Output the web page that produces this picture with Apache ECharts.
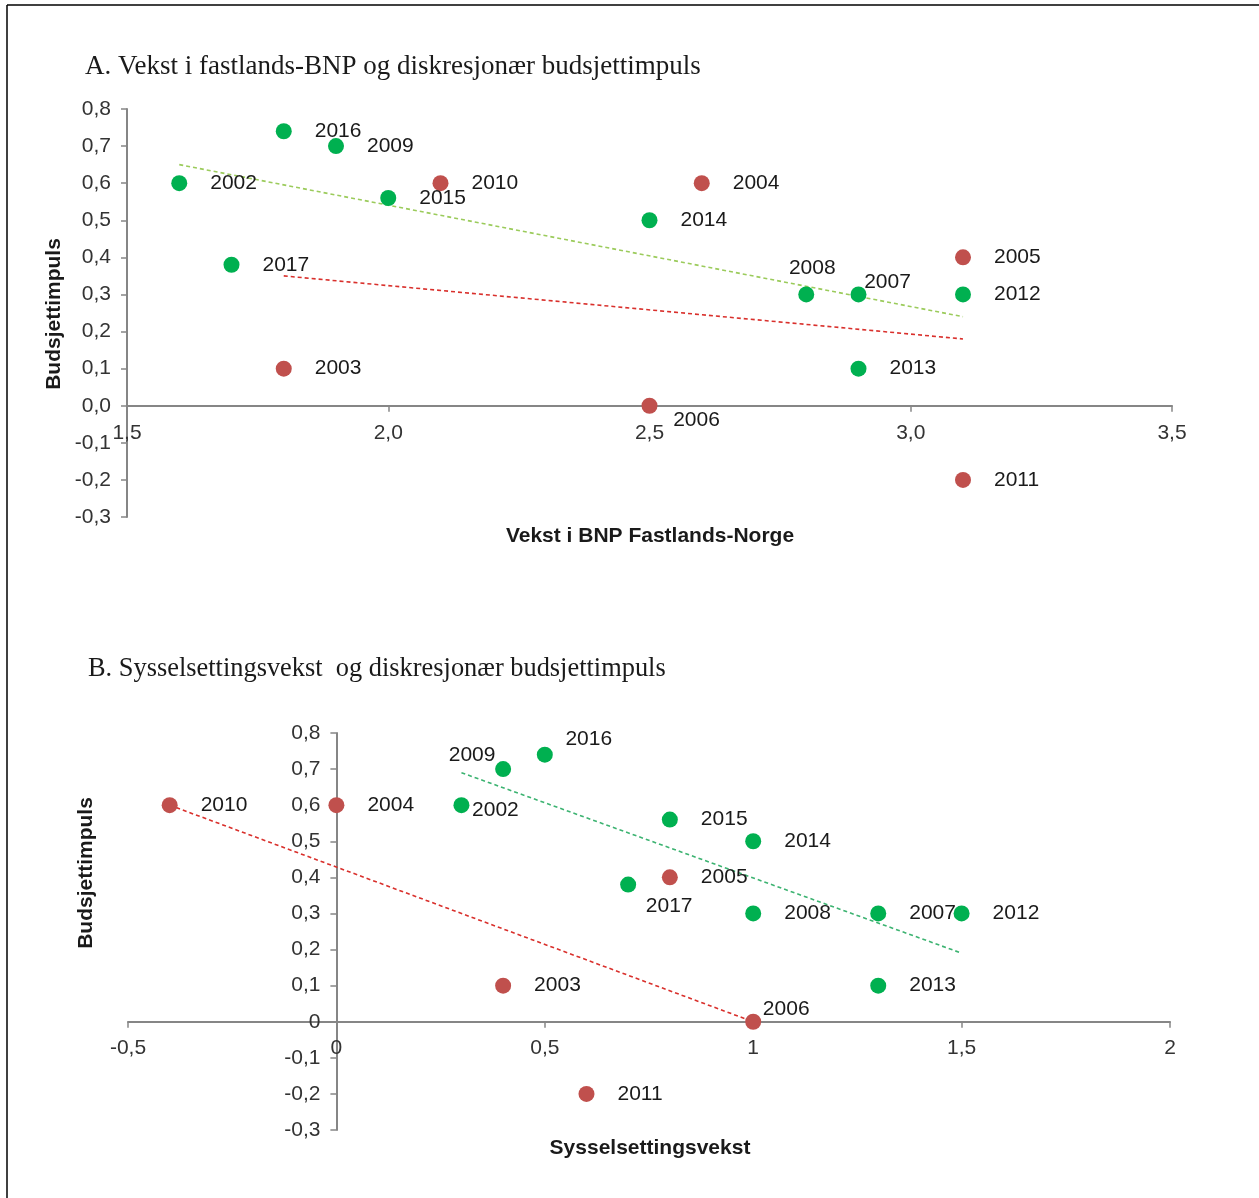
<!DOCTYPE html>
<html>
<head>
<meta charset="utf-8">
<script src="https://cdn.jsdelivr.net/npm/echarts@6/dist/echarts.min.js"></script>
<style>
html,body{margin:0;padding:0;background:#fff;}
#chart{width:1259px;height:1198px;}
</style>
</head>
<body>
<div id="chart"></div>
<script>
// ---------- Data ----------
const titleA = 'A. Vekst i fastlands-BNP og diskresjonær budsjettimpuls';
const titleB = 'B. Sysselsettingsvekst  og diskresjonær budsjettimpuls';
const xNameA = 'Vekst i BNP Fastlands-Norge';
const xNameB = 'Sysselsettingsvekst';
const yName = 'Budsjettimpuls';

const years      = ['2002','2003','2004','2005','2006','2007','2008','2009','2010','2011','2012','2013','2014','2015','2016','2017'];
const group      = ['g','r','r','r','r','g','g','g','r','r','g','g','g','g','g','g'];
const impulse    = [0.6, 0.1, 0.6, 0.4, 0.0, 0.3, 0.3, 0.7, 0.6, -0.2, 0.3, 0.1, 0.5, 0.56, 0.74, 0.38];
const gdpGrowth  = [1.6, 1.8, 2.6, 3.1, 2.5, 2.9, 2.8, 1.9, 2.1, 3.1, 3.1, 2.9, 2.5, 2.0, 1.8, 1.7];
const empGrowth  = [0.3, 0.4, 0.0, 0.8, 1.0, 1.3, 1.0, 0.4, -0.4, 0.6, 1.5, 1.3, 1.0, 0.8, 0.5, 0.7];

const trendA_green = [[1.6, 0.65], [3.1, 0.24]];
const trendA_red   = [[1.8, 0.35], [3.1, 0.18]];
const trendB_green = [[0.3, 0.69], [1.5, 0.19]];
const trendB_red   = [[-0.4, 0.6], [1.0, 0.0]];

const xRangeA = [1.5, 3.5];
const xRangeB = [-0.5, 2];
const yRange  = [-0.3, 0.8];

// ---------- Styles / layout ----------
const GREEN = '#00B050', RED = '#C0504D';
const SANS = 'Liberation Sans, Arial, sans-serif';
const SERIF = 'Liberation Serif, Times New Roman, serif';
const labelFont = {fontFamily: SANS, fontSize: 21, color: '#1a1a1a'};
const gridA = {left: 127, right: 87, top: 109, bottom: 681};
const gridB = {left: 128, right: 89, top: 733, bottom: 68};
const W = 1259, H = 1198;

// label centre offsets (px) for labels that are not simply to the right
const specialA = {'2008': [6, -26], '2007': [29, -12], '2006': [47, 14]};
const specialB = {'2009': [-31, -14], '2016': [44, -15], '2002': [34, 5], '2017': [41, 22], '2006': [33, -13]};

function pts(xs, g, special) {
  const out = [];
  years.forEach((yr, i) => {
    if (group[i] !== g) return;
    const d = {value: [xs[i], impulse[i], yr]};
    if (special[yr]) {
      d.label = {position: 'inside', offset: special[yr], align: 'center', verticalAlign: 'middle'};
    }
    out.push(d);
  });
  return out;
}

function scatter(xi, yi, g, xs, special) {
  return {
    type: 'scatter', xAxisIndex: xi, yAxisIndex: yi,
    symbolSize: 16,
    itemStyle: {color: g === 'g' ? GREEN : RED, opacity: 1},
    data: pts(xs, g, special),
    label: Object.assign({show: true, position: 'right', distance: 23,
      formatter: p => p.value[2]}, labelFont),
    z: 3
  };
}
function trend(xi, yi, data, color) {
  return {
    type: 'line', xAxisIndex: xi, yAxisIndex: yi, data: data,
    symbol: 'none', silent: true,
    lineStyle: {color: color, width: 1.6, type: [4, 3]}, z: 2
  };
}

const axisStyle = {
  axisLine: {lineStyle: {color: '#868686', width: 2}},
  axisTick: {show: true, length: 6, lineStyle: {color: '#868686', width: 1.5}},
  splitLine: {show: false},
  axisLabel: {fontFamily: SANS, fontSize: 21, color: '#333'}
};
function fmtFixed(v) { return v.toFixed(1).replace('.', ','); }
function fmtGen(v) { return String(Math.round(v * 10) / 10).replace('.', ','); }

// distance in px from grid edge to the zero line (labels are kept next to the zero line)
function zeroShift(len, range) {
  if (range[0] >= 0 || range[1] <= 0) return 0;
  return len * (0 - range[0]) / (range[1] - range[0]);
}

function xAx(grid, g, range, fmt, margin) {
  const h = H - g.top - g.bottom;
  return Object.assign({}, axisStyle, {
    type: 'value', gridIndex: grid, min: range[0], max: range[1], interval: 0.5,
    axisLabel: Object.assign({}, axisStyle.axisLabel, {formatter: fmt, margin: margin - zeroShift(h, yRange)})
  });
}
function yAx(grid, g, xrange, fmt, margin) {
  const w = W - g.left - g.right;
  return Object.assign({}, axisStyle, {
    type: 'value', gridIndex: grid, min: yRange[0], max: yRange[1], interval: 0.1,
    axisLabel: Object.assign({}, axisStyle.axisLabel, {formatter: fmt, margin: margin - zeroShift(w, xrange)})
  });
}

const chart = echarts.init(document.getElementById('chart'));
chart.setOption({
  animation: false,
  backgroundColor: '#fff',
  grid: [gridA, gridB],
  xAxis: [xAx(0, gridA, xRangeA, fmtFixed, 17), xAx(1, gridB, xRangeB, fmtGen, 16)],
  yAxis: [yAx(0, gridA, xRangeA, fmtFixed, 16), yAx(1, gridB, xRangeB, fmtGen, 16)],
  series: [
    trend(0, 0, trendA_green, '#9BCB5B'),
    trend(0, 0, trendA_red, '#D9302C'),
    scatter(0, 0, 'g', gdpGrowth, specialA),
    scatter(0, 0, 'r', gdpGrowth, specialA),
    trend(1, 1, trendB_green, '#3CB371'),
    trend(1, 1, trendB_red, '#D9302C'),
    scatter(1, 1, 'g', empGrowth, specialB),
    scatter(1, 1, 'r', empGrowth, specialB)
  ],
  graphic: [
    {type: 'line', shape: {x1: 7, y1: 5, x2: 1259, y2: 5}, style: {stroke: '#000', lineWidth: 1.5}},
    {type: 'line', shape: {x1: 7, y1: 5, x2: 7, y2: 1198}, style: {stroke: '#000', lineWidth: 1.5}},
    {type: 'text', x: 85, y: 67, style: {text: titleA, fontFamily: SERIF, fontSize: 27, fill: '#1a1a1a', verticalAlign: 'middle'}},
    {type: 'text', x: 88, y: 669, style: {text: titleB, fontFamily: SERIF, fontSize: 26.4, fill: '#1a1a1a', verticalAlign: 'middle'}},
    {type: 'text', x: 650, y: 536, style: {text: xNameA, fontFamily: SANS, fontWeight: 'bold', fontSize: 21, fill: '#1a1a1a', align: 'center', verticalAlign: 'middle'}},
    {type: 'text', x: 650, y: 1148, style: {text: xNameB, fontFamily: SANS, fontWeight: 'bold', fontSize: 21, fill: '#1a1a1a', align: 'center', verticalAlign: 'middle'}},
    {type: 'text', x: 54, y: 314, rotation: Math.PI / 2, style: {text: yName, fontFamily: SANS, fontWeight: 'bold', fontSize: 21, fill: '#1a1a1a', align: 'center', verticalAlign: 'middle'}},
    {type: 'text', x: 86, y: 873, rotation: Math.PI / 2, style: {text: yName, fontFamily: SANS, fontWeight: 'bold', fontSize: 21, fill: '#1a1a1a', align: 'center', verticalAlign: 'middle'}}
  ]
});
</script>
</body>
</html>
